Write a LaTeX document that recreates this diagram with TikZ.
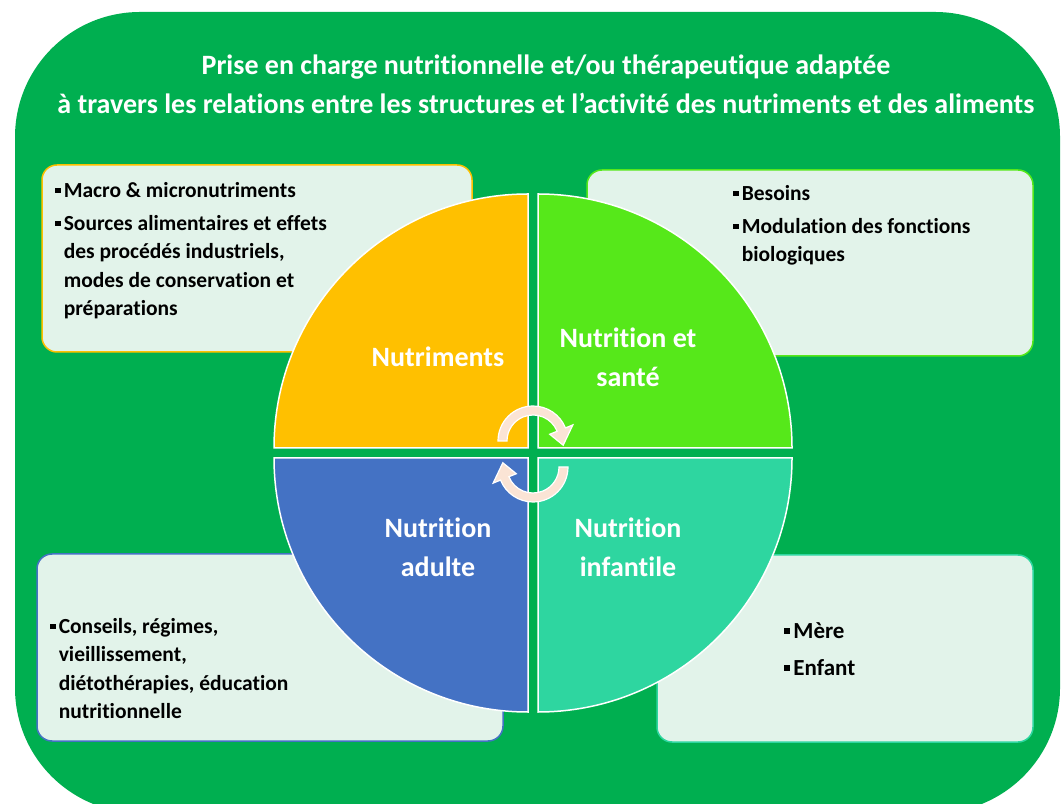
\documentclass[tikz,border=0pt]{standalone}
\usepackage{fontspec}
\setmainfont{Carlito}[Ligatures=NoCommon]

\definecolor{bggreen}{HTML}{00AF50}
\definecolor{boxfill}{HTML}{E2F3EA}
\definecolor{nutorange}{HTML}{FFC000}
\definecolor{santegreen}{HTML}{56E81A}
\definecolor{adultblue}{HTML}{4472C4}
\definecolor{infteal}{HTML}{2ED6A0}
\definecolor{peach}{HTML}{FBE4D5}

\newcommand{\sqbullet}{\rule[0.2em]{0.25em}{0.25em}\hspace{0.15em}}
\newcommand{\bitem}[1]{\par\noindent\sqbullet#1}
\newcommand{\cont}{\newline\hspace*{0.4em}}

\tikzset{
  infobox/.style={fill=boxfill, line width=1.5pt, rounded corners=15pt},
  quarter/.style={draw=white, line width=1.5pt},
  quartlabel/.style={text=white, inner sep=0pt, align=center,
    font=\bfseries\fontsize{28}{39}\selectfont},
  boxtext/.style={anchor=north west, inner sep=0pt, align=flush left, text width=330pt,
    font=\bfseries\fontsize{21.5}{28.5}\selectfont\setlength\parskip{4.5pt}},
  cycarrow/.style={fill=peach, draw=white, line width=1.2pt},
}

\begin{document}
\begin{tikzpicture}[x=1pt, y=1pt]
    \useasboundingbox (0,0) rectangle (1064,803);
    \clip (0,0) rectangle (1064,803);

    % background
    \fill[bggreen, rounded corners=125pt] (15,-10) rectangle (1060,791);

    \node[text=white, align=center, font=\bfseries\fontsize{28}{39}\selectfont] (title) at (546,719)
        {Prise en charge nutritionnelle et/ou thérapeutique adaptée\\
         à travers les relations entre les structures et l’activité des nutriments et des aliments};

    % boxes
    \draw[infobox, draw=nutorange] (42,451) rectangle (472,638);
    \draw[infobox, draw=santegreen] (587,447) rectangle (1033,633);
    \draw[infobox, draw=adultblue] (37,62) rectangle (503,249);
    \draw[infobox, draw=infteal] (657,61) rectangle (1033,248);

    % quarters
    \draw[quarter, fill=nutorange] (528,355) -- ++(-254,0) arc (180:90:254) -- cycle;
    \draw[quarter, fill=santegreen] (538,355) -- ++(0,254) arc (90:0:254) -- cycle;
    \draw[quarter, fill=adultblue] (528,345) -- ++(0,-254) arc (270:180:254) -- cycle;
    \draw[quarter, fill=infteal] (538,345) -- ++(254,0) arc (0:-90:254) -- cycle;

    \node[quartlabel] (nutriments) at (438,446) {Nutriments};
    \node[quartlabel] (sante) at (628,446) {Nutrition et\\santé};
    \node[quartlabel] (adulte) at (438,256) {Nutrition\\adulte};
    \node[quartlabel] (infantile) at (628,256) {Nutrition\\infantile};

    % turning arrows
    \begin{scope}[shift={(533,362)}]
        \draw[cycarrow] (180:35) arc (180:22:35) -- (22:43) -- (-8:30.5) -- (22:18) -- (22:26) arc (22:180:26) -- cycle;
    \end{scope}
    \begin{scope}[shift={(533,336)}, rotate=180]
        \draw[cycarrow] (180:35) arc (180:22:35) -- (22:43) -- (-8:30.5) -- (22:18) -- (22:26) arc (22:180:26) -- cycle;
    \end{scope}

    % box texts
    \node[boxtext] (nutText) at (55,639) {\bitem{Macro \& micronutriments}
        \bitem{Sources alimentaires et effets\cont des procédés industriels,\cont modes de conservation et\cont préparations}};
    \node[boxtext] (santeText) at (733,636) {\bitem{Besoins}
        \bitem{Modulation des fonctions\cont biologiques}};
    \node[boxtext] (adultText) at (50,203) {\bitem{Conseils, régimes,\cont vieillissement,\cont diétothérapies, éducation\cont nutritionnelle}};
    \node[boxtext, font=\bfseries\fontsize{23}{32}\selectfont\setlength\parskip{5pt}] (infText) at (784,202)
        {\bitem{Mère}\bitem{Enfant}};
\end{tikzpicture}
\end{document}
